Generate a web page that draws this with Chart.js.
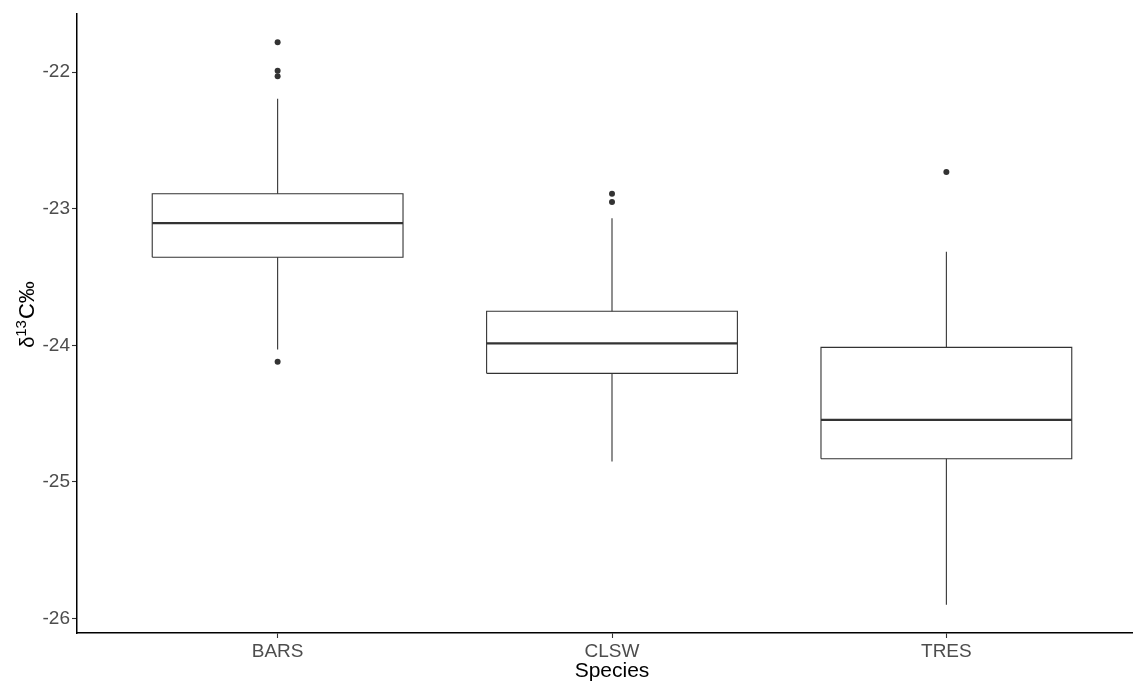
<!DOCTYPE html>
<html>
<head>
<meta charset="utf-8">
<script src="https://cdn.jsdelivr.net/npm/chart.js@4"></script>
<style>
  html, body { margin: 0; padding: 0; background: #ffffff; overflow: hidden; }
  #wrap { width: 1152px; height: 683px; }
</style>
</head>
<body>
<div id="wrap"><canvas id="c" width="1152" height="683"></canvas></div>
<script>
// ---- data ----
const categories  = ['BARS', 'CLSW', 'TRES'];
const whiskerLow  = [-24.03, -24.85, -25.90];
const q1          = [-23.355, -24.205, -24.83];
const median      = [-23.105, -23.985, -24.545];
const q3          = [-22.89, -23.75, -24.015];
const whiskerHigh = [-22.195, -23.07, -23.315];
const outliers    = [[-21.78, -21.99, -22.03, -24.12], [-22.89, -22.95], [-22.73]];
const yTicks      = [-26, -25, -24, -23, -22];
const xTitle = 'Species';
const yTitleParts = ['δ', '13', 'C‰'];   // delta, superscript 13, C per-mil

// ---- styles ----
const BOX_W = 0.75;
const LINE = '#333333';
const FONT = '"Liberation Sans", Arial, sans-serif';

// ggplot-like 5% expansion of the data range
const allVals = [].concat(whiskerLow, whiskerHigh, ...outliers);
const dMin = Math.min(...allVals), dMax = Math.max(...allVals);
const pad = (dMax - dMin) * 0.05;

const datasets = [];
const h = BOX_W / 2;
categories.forEach((c, i) => {
  const base = { type: 'scatter', showLine: true, fill: false, pointRadius: 0, pointHoverRadius: 0,
                 borderColor: LINE, borderWidth: 1.1, borderCapStyle: 'butt', tension: 0 };
  datasets.push(Object.assign({}, base, { data: [
    {x: i - h, y: q1[i]}, {x: i + h, y: q1[i]}, {x: i + h, y: q3[i]}, {x: i - h, y: q3[i]}, {x: i - h, y: q1[i]}
  ]}));
  datasets.push(Object.assign({}, base, { data: [{x: i, y: q3[i]}, {x: i, y: whiskerHigh[i]}] }));
  datasets.push(Object.assign({}, base, { data: [{x: i, y: q1[i]}, {x: i, y: whiskerLow[i]}] }));
  datasets.push(Object.assign({}, base, { borderWidth: 2.2, data: [{x: i - h, y: median[i]}, {x: i + h, y: median[i]}] }));
});
datasets.push({
  type: 'scatter', showLine: false, pointRadius: 3, pointHoverRadius: 3,
  backgroundColor: LINE, borderColor: LINE, borderWidth: 0,
  data: outliers.flatMap((arr, i) => arr.map(v => ({x: i, y: v})))
});

// y-axis title with a real superscript, drawn rotated next to the axis
const yTitlePlugin = {
  id: 'yTitle',
  afterDraw(chart) {
    const ctx = chart.ctx;
    const area = chart.chartArea;
    const sizes = [20, 15, 22];
    const rise  = [0, 8, 0];
    ctx.save();
    let total = 0;
    const widths = yTitleParts.map((t, k) => {
      ctx.font = sizes[k] + 'px ' + FONT;
      const w = ctx.measureText(t).width + (k === 1 ? 1 : 0);
      total += w;
      return w;
    });
    const cy = (area.top + area.bottom) / 2 - 9;
    ctx.translate(33.5, cy + total / 2);
    ctx.rotate(-Math.PI / 2);
    ctx.fillStyle = '#000000';
    ctx.textBaseline = 'alphabetic';
    ctx.textAlign = 'left';
    let x = 0;
    yTitleParts.forEach((t, k) => {
      ctx.font = sizes[k] + 'px ' + FONT;
      ctx.fillText(t, x, -rise[k]);
      x += widths[k];
    });
    ctx.restore();
  }
};

new Chart(document.getElementById('c'), {
  type: 'scatter',
  data: { datasets },
  plugins: [yTitlePlugin],
  options: {
    responsive: false,
    animation: false,
    events: [],
    layout: { padding: { top: 14, right: 5, left: 0, bottom: 0 } },
    plugins: { legend: { display: false }, tooltip: { enabled: false } },
    scales: {
      x: {
        type: 'linear',
        min: -0.6, max: categories.length - 0.4,
        afterFit: s => { s.height = 50; },
        afterBuildTicks: s => { s.ticks = categories.map((_, i) => ({ value: i })); },
        ticks: {
          autoSkip: false, maxRotation: 0, padding: 2,
          color: '#4D4D4D', font: { family: FONT, size: 19 },
          callback: v => categories[v]
        },
        grid: { display: true, drawOnChartArea: false, drawTicks: true, tickLength: 5, tickColor: LINE, tickWidth: 1.1 },
        border: { display: true, color: '#000000', width: 1.5 },
        title: { display: true, text: xTitle, color: '#000000', font: { family: FONT, size: 21, lineHeight: 1.1 }, padding: { top: 0, bottom: 0 } }
      },
      y: {
        type: 'linear',
        min: dMin - pad, max: dMax + pad,
        afterFit: s => { s.width = 77; },
        afterBuildTicks: s => { s.ticks = yTicks.map(v => ({ value: v })); },
        ticks: {
          padding: 2, color: '#4D4D4D', font: { family: FONT, size: 19 },
          callback: v => String(v)
        },
        grid: { display: true, drawOnChartArea: false, drawTicks: true, tickLength: 5, tickColor: LINE, tickWidth: 1.1 },
        border: { display: true, color: '#000000', width: 1.5 },
        title: { display: false }
      }
    }
  }
});
</script>
</body>
</html>
